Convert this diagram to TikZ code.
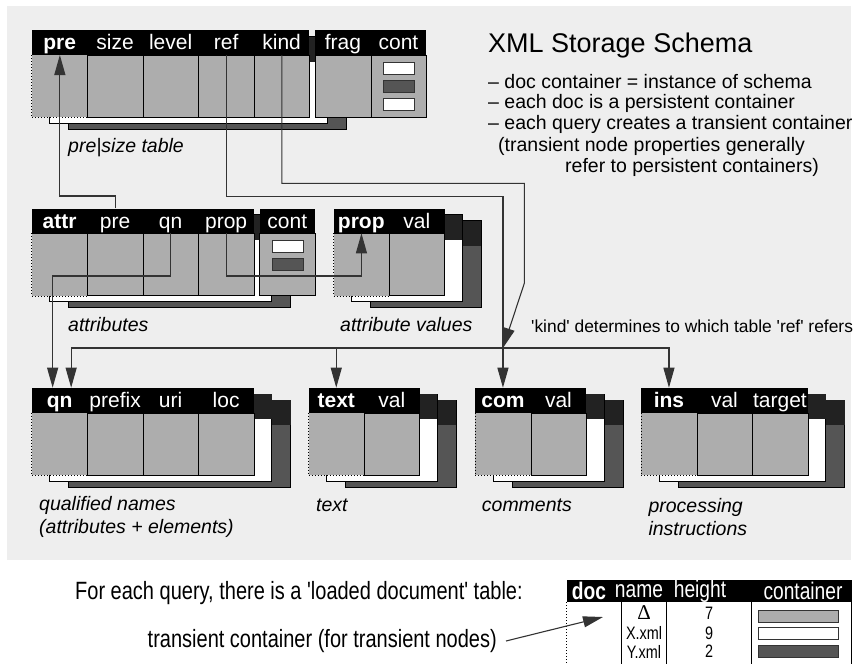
\documentclass[tikz,border=0pt]{standalone}
\usepackage{fontspec}
\setmainfont{Liberation Sans}
\newfontfamily\plainsans{Liberation Sans}
\newfontfamily\narrowsans[FakeStretch=0.8]{Liberation Sans}
\newfontfamily\deltafont{Liberation Serif}
\usetikzlibrary{arrows.meta,calc}

\definecolor{bgc}{HTML}{EEEEEE}
\definecolor{cellc}{HTML}{ADADAD}
\definecolor{darkc}{HTML}{555555}
\definecolor{hdrc}{HTML}{222222}
\definecolor{linec}{HTML}{333333}

\newcommand\sq{{\plainsans\symbol{39}}}

\tikzset{
  hdrcell/.style={fill=black, text=white, anchor=north west, inner sep=0pt,
    minimum width=55.5pt, minimum height=25pt, text height=16pt, text depth=2pt,
    font=\fontsize{21}{22}\selectfont},
  bodycell/.style={fill=cellc, draw=black, line width=0.8pt, anchor=north west,
    inner sep=0pt, minimum width=55.5pt, minimum height=62pt},
  firstcell1/.style={bodycell, draw=none},
  firstcell0/.style={bodycell},
  conn/.style={draw=linec, line width=1.1pt},
  arr/.style={-{Triangle[length=20pt,width=11pt]}},
  captxt/.style={anchor=west, inner sep=0pt, align=left,
    font=\fontsize{19.5}{23.3}\selectfont\itshape},
  notetxt/.style={anchor=west, inner sep=0pt, font=\fontsize{19.5}{21.5}\selectfont},
  narrowtxt/.style={inner sep=0pt, font=\fontsize{25}{26}\selectfont\narrowsans},
  mini/.style={draw=black!80, line width=0.8pt, minimum width=31pt,
    minimum height=12pt, inner sep=0pt},
  bar/.style={draw=black!80, line width=0.8pt, minimum width=80pt,
    minimum height=12pt, inner sep=0pt},
  dotline/.style={draw=black, line width=0.8pt, dash pattern=on 1pt off 2pt},
}

% white and dark copies stacked behind a table: x, y, width
\newcommand\layers[3]{%
  \filldraw[fill=darkc, draw=black, line width=0.8pt] ({#1+37},{#2+12.5}) rectangle ++(#3,87);
  \fill[hdrc] ({#1+37},{#2+12.5}) rectangle ++(#3,25);
  \filldraw[fill=white, draw=black, line width=0.8pt] ({#1+18},{#2+6.5}) rectangle ++(#3,87);
  \fill[hdrc] ({#1+18},{#2+6.5}) rectangle ++(#3,25);
}

% table columns: name, x, y, header labels, dotted first column (1/0)
\newcommand\mktable[5]{%
  \foreach \lab [count=\i] in {#4} {%
    \ifnum\i=1 \def\bsty{firstcell#5}\else\def\bsty{bodycell}\fi
    \node[\bsty] (#1B\i) at ({#2+(\i-1)*55.5},{#3+25}) {};
    \node[hdrcell] (#1H\i) at ({#2+(\i-1)*55.5},#3) {\lab};
  }%
  \ifnum#5=1 \draw[dotline] (#1B1.north west) -- (#1B1.south west) -- (#1B1.south east);\fi
}

\begin{document}
\begin{tikzpicture}[x=1pt,y=-1pt]
\useasboundingbox (0,0) rectangle (858,664);
\fill[bgc] (7,6) rectangle (851,560);

% ---- pre|size table ----
\layers{31.7}{30}{277.5}
\mktable{pre}{31.7}{30}{\textbf{pre},size,level,ref,kind}{1}
\mktable{fc}{315}{30}{frag,cont}{0}
\node[mini, fill=white] (fcW1) at ($(fcB2.center)+(0,-18.5)$) {};
\node[mini, fill=darkc] (fcD1) at ($(fcB2.center)+(0,-0.5)$) {};
\node[mini, fill=white] (fcW2) at ($(fcB2.center)+(0,17.5)$) {};
\node[captxt] (capPre) at (68,148) {pre|size table};

% ---- attributes ----
\layers{31.7}{208.3}{222}
\mktable{attr}{31.7}{208.3}{\textbf{attr},pre,qn,prop}{1}
\mktable{ac}{259.3}{208.3}{cont}{0}
\node[mini, fill=white] (acW1) at ($(acB1.center)+(0,-18.5)$) {};
\node[mini, fill=darkc] (acD1) at ($(acB1.center)+(0,-0.5)$) {};
\node[captxt] (capAttr) at (68,325) {attributes};

% ---- attribute values ----
\layers{333.3}{208.3}{111}
\mktable{prop}{333.3}{208.3}{\textbf{prop},val}{1}
\node[captxt] (capProp) at (340,325) {attribute values};

% ---- bottom row ----
\layers{31.7}{387.7}{222}
\mktable{qn}{31.7}{387.7}{\textbf{qn},prefix,uri,loc}{1}
\layers{308.3}{387.7}{111}
\mktable{text}{308.3}{387.7}{\textbf{text},val}{1}
\layers{475}{387.7}{111}
\mktable{com}{475}{387.7}{\textbf{com},val}{1}
\layers{641}{387.7}{166.5}
\mktable{ins}{641}{387.7}{\textbf{ins},val,target}{1}

\node[captxt] (capQn) at (39,517) {qualified names\\(attributes + elements)};
\node[captxt] (capText) at (316,505.7) {text};
\node[captxt] (capCom) at (481.7,505.7) {comments};
\node[captxt] (capIns) at (648.3,517) {processing\\instructions};

% ---- heading and notes ----
\node[anchor=west, inner sep=0pt, font=\fontsize{27}{30}\selectfont] (title) at (488,46) {XML Storage Schema};
\node[notetxt] (n1) at (488,81.7) {– doc container = instance of schema};
\node[notetxt] (n2) at (488,103.2) {– each doc is a persistent container};
\node[notetxt] (n3) at (488,124.7) {– each query creates a transient container};
\node[notetxt] (n4) at (498,146.2) {(transient node properties generally};
\node[notetxt] (n5) at (565,167.7) {refer to persistent containers)};
\node[anchor=west, inner sep=0pt, font=\fontsize{17.4}{18}\selectfont] (kindnote) at (531,326.7)
  {\sq kind\sq\ determines to which table \sq ref\sq\ refers};

% ---- connectors ----
\path (comH1.north) ++(0,-39.7) coordinate (bus);
\coordinate (kbend) at (524.3,283.3);
\draw[conn,arr] (attrH2.north) -- ++(0,-12.3) -| (preB1.north);
\draw[conn,arr] (preB4.north) -- ++(0,141.7) -| (comH1.north);
\draw[conn,arr] (preB5.north) -- ++(0,128.3) -| (kbend) -- (bus);
\draw[conn,arr] (bus) -| ($(qnH1.north)+(11.5,0)$);
\draw[conn,arr] (bus) -| (insH1.north);
\draw[conn,arr] (bus -| textH1.north) -- (textH1.north);
\draw[conn,arr] (attrB3.north) -- ++(0,42.7) -| ($(qnH1.north)+(-7,0)$);
\draw[conn,arr] (attrB4.north) -- ++(0,42.7) -| (propB1.north);

% ---- loaded document table ----
\node[narrowtxt, anchor=west] (forq) at (75,593) {For each query, there is a 'loaded document' table:};
\node[narrowtxt, anchor=east] (trans) at (497,641) {transient container (for transient nodes)};

\fill[black] (566.7,580) rectangle (852,602);
\begin{scope}[every node/.style={text=white, inner sep=0pt, font=\fontsize{24}{25}\selectfont\narrowsans}]
  \node (docH1) at (589,591) {\textbf{doc}};
  \node (docH2) at (639,591) {name};
  \node (docH3) at (700,591) {height};
  \node (docH4) at (803,591) {container};
\end{scope}
\draw[dotline] (566.7,602) -- (566.7,664);
\draw[black, line width=0.8pt] (621.7,602) -- (621.7,664) (666.7,602) -- (666.7,664)
  (751.7,602) -- (751.7,664) (851.7,602) -- (851.7,664);
\begin{scope}[every node/.style={inner sep=0pt, font=\fontsize{18}{19}\selectfont\narrowsans}]
  \node (dN1) at (644,613) {\fontsize{21}{22}\selectfont\deltafont Δ};
  \node (dN2) at (644,633) {X.xml};
  \node (dN3) at (644,651.7) {Y.xml};
  \node (dV1) at (709,613) {7};
  \node (dV2) at (709,633) {9};
  \node (dV3) at (709,651.7) {2};
\end{scope}
\node[bar, fill=cellc] (dC1) at (798.3,616) {};
\node[bar, fill=white] (dC2) at (798.3,633) {};
\node[bar, fill=darkc] (dC3) at (798.3,651) {};
\coordinate (trEnd) at (603,617);
\draw[conn,arr] ($(trans.east)+(9,0)$) -- (trEnd);
\end{tikzpicture}
\end{document}
